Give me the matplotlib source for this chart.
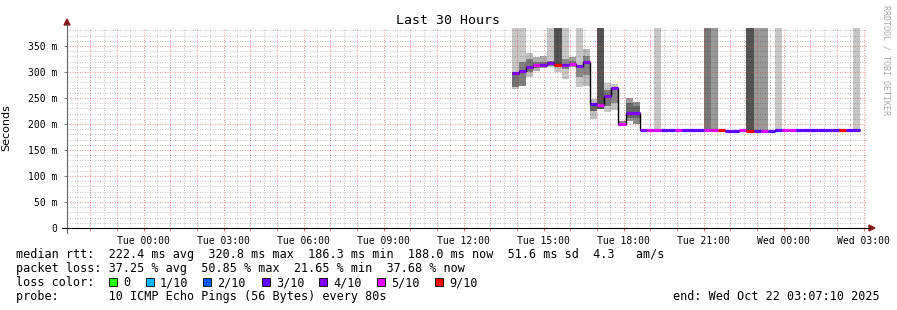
import numpy as np
import matplotlib
matplotlib.use("Agg")
import matplotlib.pyplot as plt
from matplotlib.lines import Line2D
from matplotlib.patches import Polygon, Rectangle

# ---------------- data ----------------
title = "Last 30 Hours"
x_tick_hours = [0, 3, 6, 9, 12, 15, 18, 21, 24, 27]
x_tick_labels = ["Tue 00:00", "Tue 03:00", "Tue 06:00", "Tue 09:00", "Tue 12:00",
                 "Tue 15:00", "Tue 18:00", "Tue 21:00", "Wed 00:00", "Wed 03:00"]
y_ticks = [0, 50, 100, 150, 200, 250, 300, 350]
y_tick_labels = ["0", "50 m", "100 m", "150 m", "200 m", "250 m", "300 m", "350 m"]
window_start_h = -(2 + 52 / 60 + 50 / 3600)   # Mon 21:07:10 relative to Tue 00:00
window_hours = 30.0
y_max_ms = 384.6

first_bin_h = 13.8        # Tue 13:48
bin_minutes = 16

median_ms = [299, 302, 309, 314, 314, 317, 313, 314, 316, 311, 320, 238, 237, 253, 269,
             200.5, 220.5, 220.5, 188.5, 188, 188, 188, 188, 188, 188, 188, 188, 188, 188,
             188, 186, 186, 188, 186, 186, 186, 186, 188, 188, 188, 188, 188, 188, 188, 188,
             188, 188, 188, 188]
loss_count = [4, 4, 4, 5, 4, 4, 9, 4, 5, 4, 4, 3, 5, 4, 4, 5, 4, 4, 4, 5, 5, 3, 3, 5, 3,
              3, 3, 5, 5, 9, 3, 3, 5, 9, 3, 5, 3, 3, 5, 5, 3, 3, 3, 3, 3, 3, 9, 3, 3]

N = None
outer_lo = [267, 274, 290, 302, 307, 309, 300, 286, 310, 272, 274, 210, 229, 223, 226, 197, 206, 200,
            N, N, 188, N, N, N, N, N, N, 188, 188, N, N, N, N, 186, 186, 186, N, 188,
            N, N, N, N, N, N, N, N, N, N, 188]
outer_hi = [400, 400, 337, 329, 330, 400, 400, 400, 329, 400, 344, 248, 400, 279, 277, 206, 250, 242,
            N, N, 400, N, N, N, N, N, N, 400, 400, N, N, N, N, 400, 400, 400, N, 400,
            N, N, N, N, N, N, N, N, N, N, 400]
outer_gray = [0.78, 0.78, 0.75, 0.68, 0.68, 0.78, 0.78, 0.78, 0.62, 0.78, 0.74, 0.74, 0.33, 0.78, 0.78,
              0.55, 0.6, 0.55, 1, 1, 0.78, 1, 1, 1, 1, 1, 1, 0.47, 0.6, 1, 1, 1, 1, 0.33, 0.6, 0.6,
              1, 0.78, 1, 1, 1, 1, 1, 1, 1, 1, 1, 1, 0.78]
inner_lo = [271, 273, 300, 308, 310, 312, 313, 305, 312, 290, 295, 225, N, 235, 240, N, 212, 212] + [N] * 31
inner_hi = [300, 319, 325, 320, 320, 322, 400, 325, 322, 313, 330, 240, N, 265, 272, N, 240, 235] + [N] * 31
inner_gray = [0.45, 0.5, 0.47, 0.47, 0.47, 0.53, 0.33, 0.53, 0.47, 0.53, 0.53, 0.4, 1, 0.47, 0.53,
              1, 0.4, 0.4] + [1] * 31

legend_labels = ["0", "1/10", "2/10", "3/10", "4/10", "5/10", "9/10"]
legend_counts = [0, 1, 2, 3, 4, 5, 9]
loss_colors = {0: "#26ff00", 1: "#00b8ff", 2: "#0059ff", 3: "#5e00ff",
               4: "#7e00ff", 5: "#dd00ff", 9: "#ff0000"}

stats_rtt = "median rtt:  222.4 ms avg  320.8 ms max  186.3 ms min  188.0 ms now  51.6 ms sd  4.3   am/s"
stats_loss = "packet loss: 37.25 % avg  50.85 % max  21.65 % min  37.68 % now"
probe_line = "probe:       10 ICMP Echo Pings (56 Bytes) every 80s"
end_line = "end: Wed Oct 22 03:07:10 2025"
side_text = "RRDTOOL / TOBI OETIKER"

# ---------------- figure ----------------
W, H = 897, 310
fig = plt.figure(figsize=(W / 100, H / 100), dpi=100)
fig.patch.set_facecolor("white")


def fx(x):
    return x / W


def fy(y):
    return 1 - y / H


MONO = "DejaVu Sans Mono"
ax = fig.add_axes([fx(67), fy(228), 800 / W, 200 / H])
ax.set_xlim(window_start_h, window_start_h + window_hours)
ax.set_ylim(0, y_max_ms)
for s in ax.spines.values():
    s.set_visible(False)

# grid (semi-transparent, drawn over smoke like rrdtool)
RED = (0.9, 0.2, 0.2, 0.55)
GREY = (0.0, 0.0, 0.0, 0.24)
DOT = (0, (0.9, 1.5))
xmin, xmax = ax.get_xlim()
half_hours = np.arange(np.ceil(xmin * 2) / 2, xmax, 0.5)
for h in half_hours:
    if abs(h - round(h)) < 1e-6:
        ax.axvline(h, color=RED, lw=0.75, ls=DOT, zorder=3)
    else:
        ax.axvline(h, color=GREY, lw=0.75, ls=DOT, zorder=3)
for v in np.arange(10, y_max_ms, 10):
    if v % 50 == 0:
        ax.axhline(v, color=RED, lw=0.75, ls=DOT, zorder=3)
    else:
        ax.axhline(v, color=GREY, lw=0.75, ls=DOT, zorder=3)

# smoke
n = len(median_ms)
bw = bin_minutes / 60
edges = first_bin_h + bw * np.arange(n + 1)
starts = edges[:-1]


def arr(lst):
    return np.array([np.nan if v is None else v for v in lst], dtype=float)


olo, ohi = arr(outer_lo), arr(outer_hi)
ilo, ihi = arr(inner_lo), arr(inner_hi)
for i in range(n):
    if not np.isnan(olo[i]):
        g = outer_gray[i]
        ax.bar(starts[i], ohi[i] - olo[i], bottom=olo[i], width=bw, align="edge",
               color=(g, g, g), lw=0, zorder=1)
    if not np.isnan(ilo[i]):
        g = inner_gray[i]
        ax.bar(starts[i], ihi[i] - ilo[i], bottom=ilo[i], width=bw, align="edge",
               color=(g, g, g), lw=0, zorder=2)

# median
ax.stairs(median_ms, edges, color="black", lw=1.0, baseline=None, zorder=4)
ax.hlines(median_ms, starts, edges[1:], colors=[loss_colors[c] for c in loss_count],
          lw=2.3, zorder=5)

# ticks
ax.set_xticks(x_tick_hours)
ax.set_xticklabels(x_tick_labels, fontfamily=MONO, fontsize=7)
ax.set_xticks(np.arange(np.ceil(xmin), xmax, 1), minor=True)
ax.tick_params(axis="x", which="both", length=2, color="#e07070", pad=4)
ax.set_yticks(y_ticks)
ax.set_yticklabels(y_tick_labels, fontfamily=MONO, fontsize=7)
ax.tick_params(axis="y", length=2, color="#808080", pad=5)

ax.set_ylabel("Seconds", fontsize=8, labelpad=6)
ax.yaxis.set_label_coords(fx(11 - 67) * W / 800, 0.5)

# axes lines with arrows
fig.add_artist(Line2D([fx(67), fx(67)], [fy(233), fy(24)], color="#606060", lw=0.8))
fig.add_artist(Line2D([fx(62), fx(870)], [fy(228), fy(228)], color="black", lw=0.8))
ac = "#8b1a1a"
fig.add_artist(Polygon([(fx(64), fy(25)), (fx(70), fy(25)), (fx(67), fy(19))],
                       closed=True, color=ac, transform=fig.transFigure))
fig.add_artist(Polygon([(fx(869), fy(225)), (fx(869), fy(231)), (fx(875), fy(228))],
                       closed=True, color=ac, transform=fig.transFigure))

# title and side text
fig.text(fx(448), fy(20), title, ha="center", va="center", fontfamily=MONO, fontsize=9.5)
fig.text(fx(886), fy(5), side_text, ha="center", va="top", rotation=270,
         fontfamily=MONO, fontsize=6.0, color="#a8a8a8")

# legend / stats
fs = 8.45
fig.text(fx(16), fy(258), stats_rtt, ha="left", va="baseline", fontfamily=MONO, fontsize=fs)
fig.text(fx(16), fy(272), stats_loss, ha="left", va="baseline", fontfamily=MONO, fontsize=fs)
fig.text(fx(16), fy(286), "loss color:", ha="left", va="baseline", fontfamily=MONO, fontsize=fs)
fig.text(fx(16), fy(300), probe_line, ha="left", va="baseline", fontfamily=MONO, fontsize=fs)
fig.text(fx(880), fy(300), end_line, ha="right", va="baseline", fontfamily=MONO, fontsize=fs)

box_x = [109, 146, 203, 262, 319, 377, 435]
for bx, lab, c in zip(box_x, legend_labels, legend_counts):
    fig.add_artist(Rectangle((fx(bx), fy(286)), 8 / W, 8 / H, transform=fig.transFigure,
                             facecolor=loss_colors[c], edgecolor="black", lw=0.6))
    fig.text(fx(bx + 14), fy(286), lab, ha="left", va="baseline", fontfamily=MONO, fontsize=fs)

fig.savefig("out.png", dpi=100, facecolor="white")
